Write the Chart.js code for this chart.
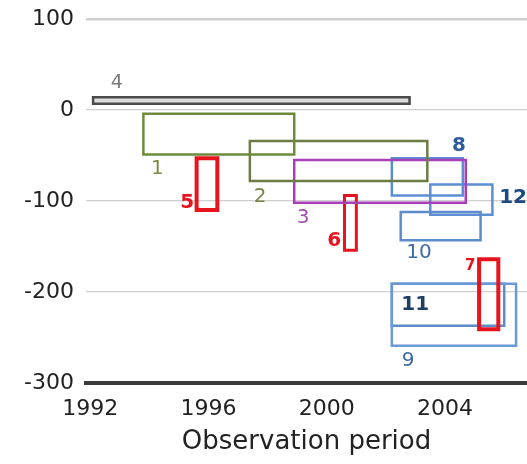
<!DOCTYPE html>
<html>
<head>
<meta charset="utf-8">
<script src="https://cdn.jsdelivr.net/npm/chart.js@4.4.0/dist/chart.umd.min.js"></script>
<style>
  html, body { margin: 0; padding: 0; background: #ffffff; }
  #wrap { width: 527px; height: 464px; position: relative; }
</style>
</head>
<body>
<div id="wrap"><canvas id="c" width="527" height="464"></canvas></div>
<script>
// ---- data ----
const boxIds     = ['1', '2', '3', '4', '5', '6', '7', '8', '9', '10', '11', '12'];
const startYear  = [1993.8, 1997.4, 1998.9, 1992.1, 1995.6, 2000.6, 2005.15, 2002.2, 2002.2, 2002.5, 2002.2, 2003.5];
const endYear    = [1998.9, 2003.4, 2004.7, 2002.8, 1996.3, 2001.0, 2005.8, 2004.6, 2006.4, 2005.2, 2006.0, 2005.6];
const lowValue   = [-49, -78, -102, 7, -110, -154, -241, -94, -259, -143, -237, -115];
const highValue  = [-4, -34, -55, 14, -53, -94, -164, -53, -191, -112, -191, -82];
// where each box number is written (year, value)
const labelYear  = [1994.27, 1997.75, 1999.2, 1992.9, 1995.28, 2000.25, 2004.85, 2004.47, 2002.75, 2003.12, 2002.99, 2006.3];
const labelValue = [-64.7, -95.3, -118, 30, -101.6, -144, -171, -39.5, -276, -157, -214.5, -97];
const xTicks = [1992, 1996, 2000, 2004];
const yTicks = [100, 0, -100, -200, -300];
const xTitle = 'Observation period';

// ---- styles ----
const boxColor  = ['#6f8a3c', '#6c7c44', '#a83fb8', '#4a4a4a', '#e5141d', '#e5141d', '#e5141d', '#5b8fd2', '#6a9ad6', '#5d8ccc', '#5d8ccc', '#5b8fd2'];
const boxWidth  = [2.5, 2.5, 2.5, 2.5, 4, 3, 4, 2.5, 2.5, 2.5, 2.5, 2.5];
const boxFill   = [null, null, null, '#dcdcdc', null, null, null, null, null, null, null, null];
const labelColor = ['#7b8a45', '#76844a', '#a44cb4', '#7a7a7a', '#e5141d', '#e5141d', '#e5141d', '#2d5c9c', '#3d6aa8', '#3f6aa8', '#1d3f66', '#1d4a80'];
const labelBold  = [false, false, false, false, true, true, true, true, false, false, true, true];
const labelSize  = [20, 20, 20, 19, 20, 20, 15, 20, 20, 20, 20, 20];
const FONT = "'DejaVu Sans', sans-serif";

const datasets = boxIds.map((id, i) => {
  const x0 = startYear[i], x1 = endYear[i], y0 = lowValue[i], y1 = highValue[i];
  return {
    label: 'Box ' + id,
    data: [{x: x0, y: y0}, {x: x1, y: y0}, {x: x1, y: y1}, {x: x0, y: y1}, {x: x0, y: y0}],
    showLine: true,
    borderColor: boxColor[i],
    borderWidth: boxWidth[i],
    borderCapStyle: 'square',
    borderJoinStyle: 'miter',
    backgroundColor: boxFill[i] || 'rgba(0,0,0,0)',
    fill: boxFill[i] ? 'shape' : false,
    pointRadius: 0,
    pointHoverRadius: 0,
    tension: 0
  };
});

const labelPlugin = {
  id: 'boxLabels',
  afterDatasetsDraw(chart) {
    const {ctx, scales} = chart;
    ctx.save();
    ctx.textAlign = 'center';
    ctx.textBaseline = 'middle';
    boxIds.forEach((id, i) => {
      ctx.font = (labelBold[i] ? 'bold ' : '') + labelSize[i] + 'px ' + FONT;
      ctx.fillStyle = labelColor[i];
      ctx.fillText(id, scales.x.getPixelForValue(labelYear[i]), scales.y.getPixelForValue(labelValue[i]));
    });
    ctx.restore();
  }
};

new Chart(document.getElementById('c'), {
  type: 'scatter',
  data: { datasets },
  plugins: [labelPlugin],
  options: {
    responsive: false,
    animation: false,
    events: [],
    layout: { padding: { top: 19, right: 0, left: 0, bottom: 0 } },
    plugins: { legend: { display: false }, tooltip: { enabled: false }, title: { display: false } },
    scales: {
      x: {
        type: 'linear',
        min: 1991.86,
        max: 2006.77,
        afterBuildTicks: (s) => { s.ticks = xTicks.map(v => ({ value: v })); },
        afterFit: (s) => { s.height = 81; s.paddingLeft = 0; s.paddingRight = 0; },
        ticks: {
          callback: (v) => String(v),
          font: { family: FONT, size: 22 },
          color: '#222',
          padding: 13,
          maxRotation: 0,
          autoSkip: false
        },
        grid: { display: false, drawTicks: false },
        border: { display: true, color: '#3a3a3a', width: 4 },
        title: {
          display: true,
          text: xTitle,
          font: { family: FONT, size: 26 },
          color: '#222',
          padding: { top: 4, bottom: 6 }
        }
      },
      y: {
        type: 'linear',
        min: -300,
        max: 100,
        afterBuildTicks: (s) => { s.ticks = yTicks.map(v => ({ value: v })); },
        afterFit: (s) => { s.width = 86; s.paddingTop = 0; s.paddingBottom = 0; },
        ticks: {
          font: { family: FONT, size: 22 },
          color: '#222',
          padding: 12,
          callback: (v) => String(v)
        },
        grid: {
          drawTicks: false,
          color: (c) => c.tick && c.tick.value === -300 ? 'rgba(0,0,0,0)' : '#cfcfcf',
          lineWidth: (c) => c.tick && c.tick.value === 100 ? 2.5 : 1.2
        },
        border: { display: false }
      }
    }
  }
});
</script>
</body>
</html>
